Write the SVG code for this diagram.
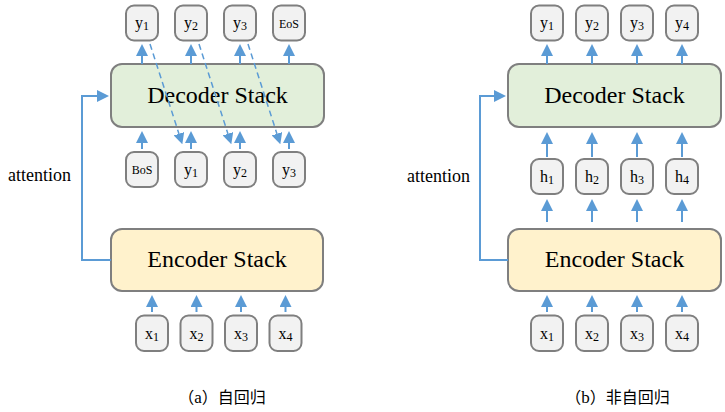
<svg xmlns="http://www.w3.org/2000/svg" width="725" height="412" viewBox="0 0 725 412">
<style>
.tok{fill:#f2f2f2;stroke:#7f7f7f;stroke-width:2}
.dec{fill:#e2efda;stroke:#7f7f7f;stroke-width:2}
.enc{fill:#fff2cc;stroke:#7f7f7f;stroke-width:2}
.big{font-family:"Liberation Serif",serif;font-size:24px;fill:#000;text-anchor:middle}
.lbl{font-family:"Liberation Serif",serif;font-size:16px;fill:#000;text-anchor:middle}
.sm{font-family:"Liberation Serif",serif;font-size:12px;fill:#000;text-anchor:middle}
.att{font-family:"Liberation Serif",serif;font-size:18px;fill:#000}
.cap{font-family:"Noto Sans CJK SC",sans-serif;font-size:16px;fill:#000;text-anchor:middle}
.lat{font-family:"Liberation Serif",serif;font-size:17px}
.ar{stroke:#5b9bd5;stroke-width:2;fill:none;marker-end:url(#ah)}
.da{stroke:#5b9bd5;stroke-width:1.5;fill:none;stroke-dasharray:6 4;marker-end:url(#ahs)}
</style>
<defs>
<marker id="ah" markerUnits="userSpaceOnUse" viewBox="0 0 12 12" markerWidth="12" markerHeight="12" refX="2" refY="6" orient="auto">
<path d="M0,0 L12,6 L0,12 z" fill="#5b9bd5"/>
</marker>
<marker id="ahs" markerUnits="userSpaceOnUse" viewBox="0 0 12 12" markerWidth="11" markerHeight="11" refX="2" refY="6" orient="auto">
<path d="M0,0 L12,6 L0,12 z" fill="#5b9bd5"/>
</marker>
</defs>

<!-- ===== Panel (a) ===== -->
<g id="a-decoder"><rect class="dec" x="111" y="64" width="213" height="63" rx="11"/><text class="big" x="217.5" y="103">Decoder Stack</text></g>
<g id="a-encoder"><rect class="enc" x="111" y="229" width="212" height="62" rx="11"/><text class="big" x="217" y="267">Encoder Stack</text></g>

<g id="a-out-y1"><rect class="tok" x="126" y="5.5" width="32" height="35" rx="8"/><text class="lbl" x="142" y="28">y<tspan font-size="12" dy="2">1</tspan></text></g>
<g id="a-out-y2"><rect class="tok" x="175" y="5.5" width="32" height="35" rx="8"/><text class="lbl" x="191" y="28">y<tspan font-size="12" dy="2">2</tspan></text></g>
<g id="a-out-y3"><rect class="tok" x="224" y="5.5" width="32" height="35" rx="8"/><text class="lbl" x="240" y="28">y<tspan font-size="12" dy="2">3</tspan></text></g>
<g id="a-out-eos"><rect class="tok" x="273" y="5.5" width="32" height="35" rx="8"/><text class="sm" x="289" y="28">EoS</text></g>

<g id="a-in-bos"><rect class="tok" x="126" y="152" width="32" height="35" rx="8"/><text class="sm" x="142" y="173.5">BoS</text></g>
<g id="a-in-y1"><rect class="tok" x="175" y="152" width="32" height="35" rx="8"/><text class="lbl" x="191" y="174.5">y<tspan font-size="12" dy="2">1</tspan></text></g>
<g id="a-in-y2"><rect class="tok" x="224" y="152" width="32" height="35" rx="8"/><text class="lbl" x="240" y="174.5">y<tspan font-size="12" dy="2">2</tspan></text></g>
<g id="a-in-y3"><rect class="tok" x="273" y="152" width="32" height="35" rx="8"/><text class="lbl" x="289" y="174.5">y<tspan font-size="12" dy="2">3</tspan></text></g>

<g id="a-x1"><rect class="tok" x="136" y="315.5" width="32" height="35.5" rx="8"/><text class="lbl" x="152" y="338.5">x<tspan font-size="12" dy="2">1</tspan></text></g>
<g id="a-x2"><rect class="tok" x="180.5" y="315.5" width="32" height="35.5" rx="8"/><text class="lbl" x="196.5" y="338.5">x<tspan font-size="12" dy="2">2</tspan></text></g>
<g id="a-x3"><rect class="tok" x="225" y="315.5" width="32" height="35.5" rx="8"/><text class="lbl" x="241" y="338.5">x<tspan font-size="12" dy="2">3</tspan></text></g>
<g id="a-x4"><rect class="tok" x="269.5" y="315.5" width="32" height="35.5" rx="8"/><text class="lbl" x="285.5" y="338.5">x<tspan font-size="12" dy="2">4</tspan></text></g>

<text class="att" x="8" y="181">attention</text>
<text class="cap" x="222" y="403">（<tspan class="lat">a</tspan>）自回归</text>

<!-- ===== Panel (b) ===== -->
<g id="b-decoder"><rect class="dec" x="508" y="64" width="213" height="63" rx="11"/><text class="big" x="614.5" y="103">Decoder Stack</text></g>
<g id="b-encoder"><rect class="enc" x="508" y="229" width="213" height="62" rx="11"/><text class="big" x="614.5" y="267">Encoder Stack</text></g>

<g id="b-y1"><rect class="tok" x="531" y="5.5" width="32" height="35" rx="8"/><text class="lbl" x="547" y="28">y<tspan font-size="12" dy="2">1</tspan></text></g>
<g id="b-y2"><rect class="tok" x="576" y="5.5" width="32" height="35" rx="8"/><text class="lbl" x="592" y="28">y<tspan font-size="12" dy="2">2</tspan></text></g>
<g id="b-y3"><rect class="tok" x="621" y="5.5" width="32" height="35" rx="8"/><text class="lbl" x="637" y="28">y<tspan font-size="12" dy="2">3</tspan></text></g>
<g id="b-y4"><rect class="tok" x="666" y="5.5" width="32" height="35" rx="8"/><text class="lbl" x="682" y="28">y<tspan font-size="12" dy="2">4</tspan></text></g>

<g id="b-h1"><rect class="tok" x="531" y="159" width="32" height="35" rx="8"/><text class="lbl" x="547" y="182">h<tspan font-size="12" dy="2">1</tspan></text></g>
<g id="b-h2"><rect class="tok" x="576" y="159" width="32" height="35" rx="8"/><text class="lbl" x="592" y="182">h<tspan font-size="12" dy="2">2</tspan></text></g>
<g id="b-h3"><rect class="tok" x="621" y="159" width="32" height="35" rx="8"/><text class="lbl" x="637" y="182">h<tspan font-size="12" dy="2">3</tspan></text></g>
<g id="b-h4"><rect class="tok" x="666" y="159" width="32" height="35" rx="8"/><text class="lbl" x="682" y="182">h<tspan font-size="12" dy="2">4</tspan></text></g>

<g id="b-x1"><rect class="tok" x="531" y="315.5" width="32" height="35.5" rx="8"/><text class="lbl" x="547" y="338.5">x<tspan font-size="12" dy="2">1</tspan></text></g>
<g id="b-x2"><rect class="tok" x="576" y="315.5" width="32" height="35.5" rx="8"/><text class="lbl" x="592" y="338.5">x<tspan font-size="12" dy="2">2</tspan></text></g>
<g id="b-x3"><rect class="tok" x="621" y="315.5" width="32" height="35.5" rx="8"/><text class="lbl" x="637" y="338.5">x<tspan font-size="12" dy="2">3</tspan></text></g>
<g id="b-x4"><rect class="tok" x="666" y="315.5" width="32" height="35.5" rx="8"/><text class="lbl" x="682" y="338.5">x<tspan font-size="12" dy="2">4</tspan></text></g>

<text class="att" x="407" y="182">attention</text>
<text class="cap" x="617.5" y="403">（<tspan class="lat">b</tspan>）非自回归</text>

<!-- ===== Connectors ===== -->
<g id="connectors">
<line class="ar" x1="142" y1="64" x2="142" y2="54"/>
<line class="ar" x1="191" y1="64" x2="191" y2="54"/>
<line class="ar" x1="240" y1="64" x2="240" y2="54"/>
<line class="ar" x1="289" y1="64" x2="289" y2="54"/>
<line class="ar" x1="142" y1="149" x2="142" y2="141"/>
<line class="ar" x1="191" y1="149" x2="191" y2="141"/>
<line class="ar" x1="240" y1="149" x2="240" y2="141"/>
<line class="ar" x1="289" y1="149" x2="289" y2="141"/>
<line class="da" x1="150" y1="44" x2="179.5" y2="135.5"/>
<line class="da" x1="199" y1="44" x2="228.5" y2="135.5"/>
<line class="da" x1="248" y1="44" x2="277.5" y2="135.5"/>
<line class="ar" x1="152" y1="312" x2="152" y2="305"/>
<line class="ar" x1="196.5" y1="312" x2="196.5" y2="305"/>
<line class="ar" x1="241" y1="312" x2="241" y2="305"/>
<line class="ar" x1="285.5" y1="312" x2="285.5" y2="305"/>
<path class="ar" d="M111,260 H82 V96 H99"/>
<line class="ar" x1="547" y1="64" x2="547" y2="54"/>
<line class="ar" x1="592" y1="64" x2="592" y2="54"/>
<line class="ar" x1="637" y1="64" x2="637" y2="54"/>
<line class="ar" x1="682" y1="64" x2="682" y2="54"/>
<line class="ar" x1="547" y1="157" x2="547" y2="142"/>
<line class="ar" x1="592" y1="157" x2="592" y2="142"/>
<line class="ar" x1="637" y1="157" x2="637" y2="142"/>
<line class="ar" x1="682" y1="157" x2="682" y2="142"/>
<line class="ar" x1="547" y1="222" x2="547" y2="209"/>
<line class="ar" x1="592" y1="222" x2="592" y2="209"/>
<line class="ar" x1="637" y1="222" x2="637" y2="209"/>
<line class="ar" x1="682" y1="222" x2="682" y2="209"/>
<line class="ar" x1="547" y1="312" x2="547" y2="305"/>
<line class="ar" x1="592" y1="312" x2="592" y2="305"/>
<line class="ar" x1="637" y1="312" x2="637" y2="305"/>
<line class="ar" x1="682" y1="312" x2="682" y2="305"/>
<path class="ar" d="M508,260 H480 V96 H496"/>
</g>
</svg>
